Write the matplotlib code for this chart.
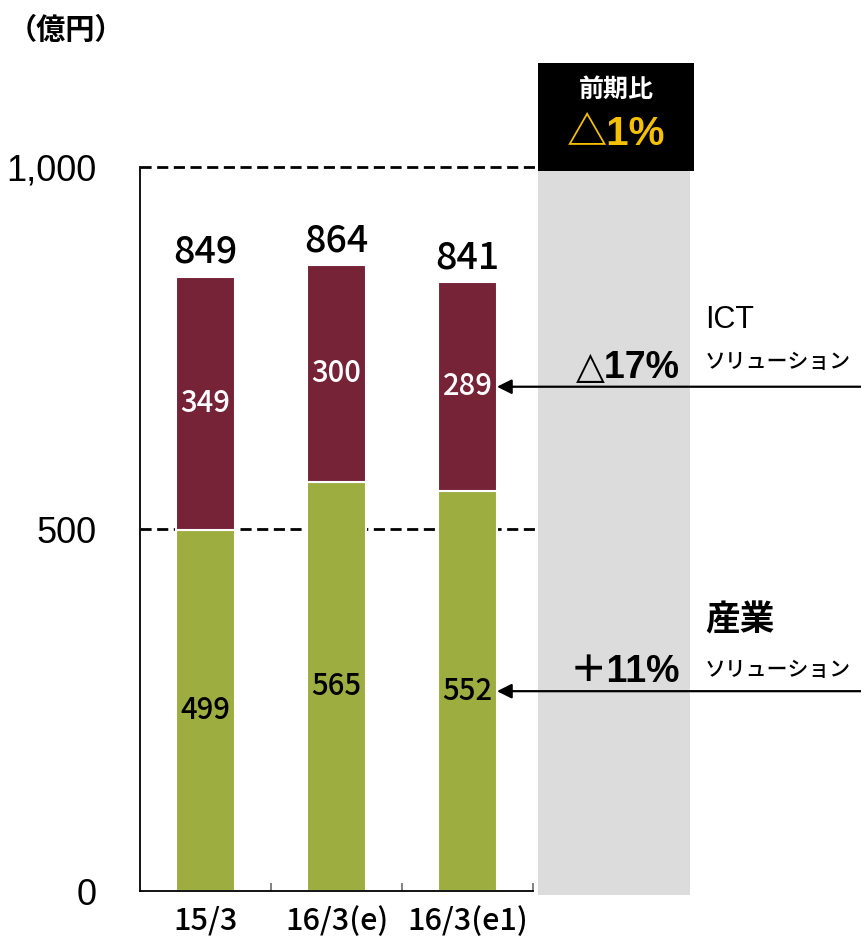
import matplotlib
matplotlib.use("Agg")
import matplotlib.pyplot as plt

categories = ["15/3", "16/3(e)", "16/3(e1)"]
industry = [499, 565, 552]
ict = [349, 300, 289]
totals = [849, 864, 841]
yticks = [0, 500, 1000]
ytick_labels = ["0", "500", "1,000"]

NARROW = ["Noto Sans CJK JP", "DejaVu Sans"]
SANS = ["Liberation Sans", "DejaVu Sans", "Noto Sans CJK JP"]
JP = ["Noto Sans CJK JP", "DejaVu Sans"]

MAROON = "#762237"
GREEN = "#9DAD3F"
GRAY = "#DCDCDC"
YELLOW = "#F5C000"

W, H = 861, 946
fig = plt.figure(figsize=(W / 100, H / 100), dpi=100)
# axes: left spine at x=140px, y=0 at 891px, 1000 units = 724px, one category = 131px
ax = fig.add_axes([140 / W, (H - 891) / H, (W - 140) / W, 891 / H])
px_per_cat = 131
px_per_unit = 0.724
ax.set_xlim(-0.5, -0.5 + (W - 140) / px_per_cat)
ax.set_ylim(0, 891 / px_per_unit)


def xd(px):
    return (px - 140) / px_per_cat - 0.5


def yd(py):
    return (891 - py) / px_per_unit


x = list(range(len(categories)))
bw = 0.45

# grey comparison band and header box
ax.add_patch(plt.Rectangle((xd(538), yd(895)), xd(690) - xd(538), 1000 - yd(895),
                           color=GRAY, lw=0, zorder=0, clip_on=False))
ax.add_patch(plt.Rectangle((xd(538), yd(171)), xd(694) - xd(538), yd(63) - yd(171),
                           color="black", lw=0, zorder=1))
ax.text((xd(538) + xd(694)) / 2, yd(90), "前期比", color="white", fontsize=18,
        fontweight="bold", family=JP, ha="center", va="center")
ax.text((xd(538) + xd(694)) / 2, yd(134), "△1%", color=YELLOW, fontsize=29,
        fontweight="bold", family=["Liberation Sans", "Noto Sans CJK JP"],
        ha="center", va="center")

# dashed guide lines
for yv in [500, 1000]:
    ax.plot([-0.5, xd(538)], [yv, yv], color="black", lw=2, ls=(0, (4, 2)), zorder=1)

ax.bar(x, industry, bw, color=GREEN, edgecolor="white", lw=1.5, zorder=2)
ax.bar(x, ict, bw, bottom=industry, color=MAROON, edgecolor="white", lw=1.5, zorder=2)

for i in x:
    ax.text(i, industry[i] / 2, str(industry[i]), ha="center", va="center",
            fontsize=21, family=NARROW, fontweight="medium", color="black", zorder=3)
    ax.text(i, industry[i] + ict[i] / 2, str(ict[i]), ha="center", va="center",
            fontsize=21, family=NARROW, fontweight="medium", color="white", zorder=3)
    ax.text(i, totals[i] + 8, str(totals[i]), ha="center", va="bottom",
            fontsize=27, family=NARROW, fontweight="medium", color="black", zorder=3)

# arrows pointing at the latest bar
last = len(categories) - 1
for yv in [industry[last] + ict[last] / 2, industry[last] / 2]:
    ax.annotate("", xy=(last + bw / 2, yv), xytext=(ax.get_xlim()[1], yv),
                arrowprops=dict(arrowstyle="-|>", color="black", lw=1.6,
                                mutation_scale=22, shrinkA=0, shrinkB=0))

ax.text(xd(680), yd(378), "△17%", ha="right", va="baseline", fontsize=27,
        fontweight="bold", family=SANS)
ax.text(xd(680), yd(682), "＋11%", ha="right", va="baseline", fontsize=27,
        fontweight="bold", family=["Liberation Sans", "Noto Sans CJK JP"])
ax.text(xd(705), yd(328), "ICT", ha="left", va="baseline", fontsize=22, family=SANS)
ax.text(xd(705), yd(362), "ソリューション", ha="left", va="center", fontsize=15,
        fontweight="medium", family=JP)
ax.text(xd(705), yd(620), "産業", ha="left", va="center", fontsize=25,
        fontweight="bold", family=JP)
ax.text(xd(705), yd(670), "ソリューション", ha="left", va="center", fontsize=15,
        fontweight="medium", family=JP)

# spines / ticks
for s in ["top", "right"]:
    ax.spines[s].set_visible(False)
ax.spines["left"].set_bounds(0, 1000)
ax.spines["bottom"].set_bounds(-0.5, 2.5)
ax.spines["left"].set_linewidth(1.3)
ax.spines["bottom"].set_linewidth(1.3)
ax.set_yticks(yticks)
ax.set_yticklabels(ytick_labels, fontsize=26, family=SANS)
ax.tick_params(axis="y", length=0, pad=31)
ax.set_xticks([0.5, 1.5, 2.5])
ax.set_xticklabels([])
ax.tick_params(axis="x", direction="in", length=6, color="#777777", width=1.3)
for i, c in enumerate(categories):
    ax.text(i, yd(921), c, ha="center", va="center", fontsize=22, family=NARROW,
            fontweight="medium")

fig.text(8 / W, 1 - 30 / H, "（億円）", ha="left", va="center", fontsize=21,
         fontweight="bold", family=JP)

fig.savefig("out.png", dpi=100)
